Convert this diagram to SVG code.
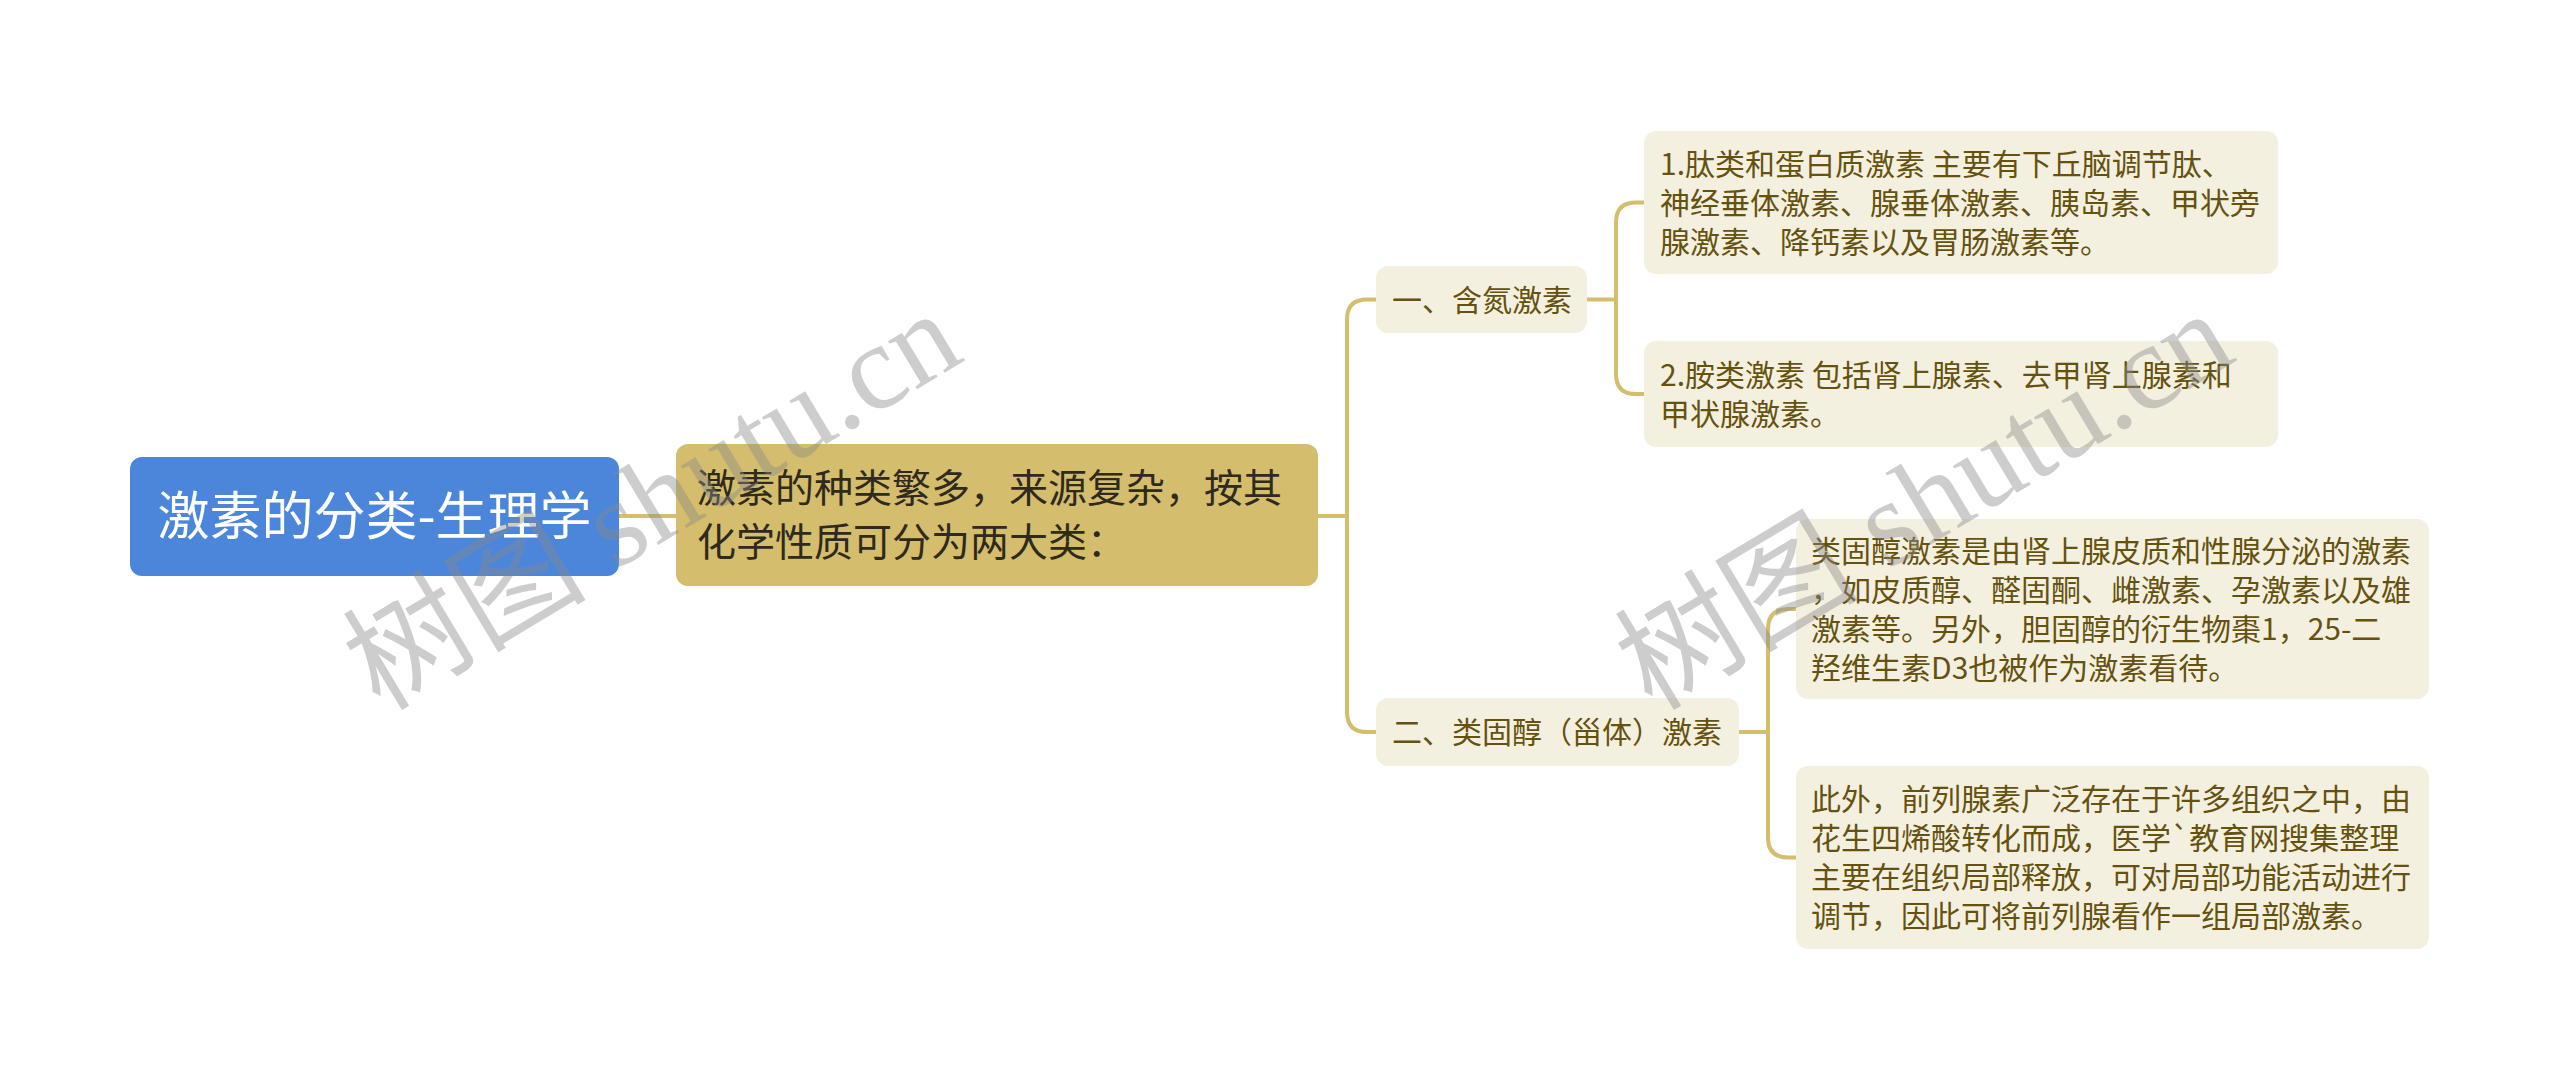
<svg xmlns="http://www.w3.org/2000/svg" width="2560" height="1081" viewBox="0 0 2560 1081">
<style>
.bg{fill:#ffffff}
.root{fill:#4b86db}
.main{fill:#d4bd6c}
.sub{fill:#f4f0e0}
.leaf{fill:#f4f0e0}
.t{font-family:"Noto Sans CJK SC","Noto Sans",sans-serif}
.troot{fill:#ffffff;font-size:52px}
.tmain{fill:#2e2a1c;font-size:39px}
.tsub{fill:#65520f;font-size:30px}
.tleaf{fill:#65520f;font-size:30px}
.conn{fill:none;stroke:#d4bd6c;stroke-width:4;stroke-linecap:round}
.wm{font-family:"Liberation Serif","Noto Sans CJK SC",serif;font-size:122px;fill:#8a8a8a;opacity:0.42}
</style>
<rect class="bg" x="0" y="0" width="2560" height="1081"/>
<g id="connectors">
<path class="conn" d="M619 516 H676"/>
<path class="conn" d="M1318 516 H1347"/>
<path class="conn" d="M1376 299.5 H1367 Q1347 299.5 1347 319.5 V712 Q1347 732 1367 732 H1376"/>
<path class="conn" d="M1587 299.5 H1616"/>
<path class="conn" d="M1644 202.5 H1636 Q1616 202.5 1616 222.5 V374 Q1616 394 1636 394 H1644"/>
<path class="conn" d="M1739 732 H1768"/>
<path class="conn" d="M1796 609 H1788 Q1768 609 1768 629 V837.5 Q1768 857.5 1788 857.5 H1796"/>
</g>
<g id="root">
<rect class="root" x="130" y="457" width="489" height="119" rx="12"/>
<text class="t troot" x="374.5" y="535" text-anchor="middle">激素的分类-生理学</text>
</g>
<g id="main">
<rect class="main" x="676" y="444" width="642" height="142" rx="12"/>
<text class="t tmain" x="697" y="502">激素的种类繁多，来源复杂，按其</text>
<text class="t tmain" x="697" y="556">化学性质可分为两大类：</text>
</g>
<g id="sub1">
<rect class="sub" x="1376" y="266" width="211" height="67" rx="12"/>
<text class="t tsub" x="1392" y="310.5">一、含氮激素</text>
</g>
<g id="sub2">
<rect class="sub" x="1376" y="698" width="363" height="68" rx="12"/>
<text class="t tsub" x="1392" y="743">二、类固醇（甾体）激素</text>
</g>
<g id="leaf1">
<rect class="leaf" x="1644" y="131" width="634" height="143" rx="12"/>
<text class="t tleaf" x="1660" y="174.5">1.肽类和蛋白质激素 主要有下丘脑调节肽、</text>
<text class="t tleaf" x="1660" y="213.5">神经垂体激素、腺垂体激素、胰岛素、甲状旁</text>
<text class="t tleaf" x="1660" y="252.5">腺激素、降钙素以及胃肠激素等。</text>
</g>
<g id="leaf2">
<rect class="leaf" x="1644" y="341" width="634" height="106" rx="12"/>
<text class="t tleaf" x="1660" y="385.5">2.胺类激素 包括肾上腺素、去甲肾上腺素和</text>
<text class="t tleaf" x="1660" y="424.5">甲状腺激素。</text>
</g>
<g id="leaf3">
<rect class="leaf" x="1796" y="519" width="633" height="180" rx="12"/>
<text class="t tleaf" x="1811" y="561.5">类固醇激素是由肾上腺皮质和性腺分泌的激素</text>
<text class="t tleaf" x="1811" y="600.5">，如皮质醇、醛固酮、雌激素、孕激素以及雄</text>
<text class="t tleaf" x="1811" y="639.5">激素等。另外，胆固醇的衍生物棗1，25-二</text>
<text class="t tleaf" x="1811" y="678.5">羟维生素D3也被作为激素看待。</text>
</g>
<g id="leaf4">
<rect class="leaf" x="1796" y="766" width="633" height="183" rx="12"/>
<text class="t tleaf" x="1811" y="810">此外，前列腺素广泛存在于许多组织之中，由</text>
<text class="t tleaf" x="1811" y="849">花生四烯酸转化而成，医学`教育网搜集整理</text>
<text class="t tleaf" x="1811" y="888">主要在组织局部释放，可对局部功能活动进行</text>
<text class="t tleaf" x="1811" y="927">调节，因此可将前列腺看作一组局部激素。</text>
</g>
<g id="watermarks">
<text class="wm" x="0" y="0" transform="translate(380 712) rotate(-31)">树图 shutu.cn</text>
<text class="wm" x="0" y="0" transform="translate(1652 712) rotate(-31)">树图 shutu.cn</text>
</g>
</svg>
